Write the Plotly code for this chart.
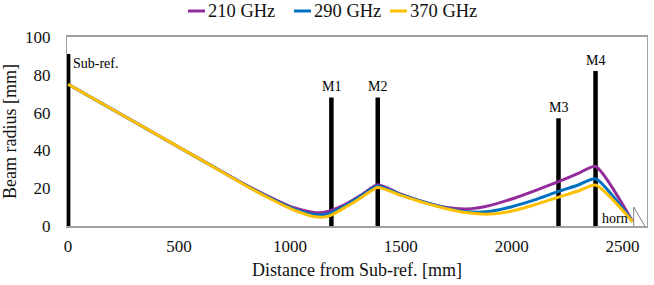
import plotly.graph_objects as go

# Beam radius curves
x_pts = [0, 300, 600, 800, 900, 1000, 1050, 1100, 1150, 1187, 1250, 1320, 1396,
         1500, 1600, 1700, 1800, 1900, 2000, 2100, 2211, 2300, 2378, 2545]
r_210 = [75, 55, 35, 21.8, 15.8, 10.4, 8.6, 7.3, 7.1, 8.2, 11.4, 16.2, 21.8,
         16.8, 12.8, 9.9, 9.0, 10.8, 14.3, 18.5, 23.5, 27.8, 31.5, 2.3]
r_290 = [75, 55, 35, 21.6, 15.4, 9.9, 7.8, 6.2, 5.9, 7.1, 10.8, 15.8, 21.2,
         16.6, 12.8, 9.6, 7.5, 7.7, 10.2, 13.7, 18.3, 21.7, 25.0, 2.3]
r_370 = [75, 55, 35, 21.4, 15.1, 9.3, 7.0, 5.2, 4.7, 5.8, 9.9, 14.9, 20.4,
         16.2, 12.5, 9.3, 7.0, 6.3, 7.9, 11.1, 15.3, 18.5, 21.7, 2.3]
series_names = ["210 GHz", "290 GHz", "370 GHz"]
series_vals = [r_210, r_290, r_370]
series_colors = ["#922B9C", "#0070C0", "#FFC000"]

# Mirror positions
mirror_x = [0, 1187, 1396, 2211, 2378]
mirror_h = [91, 68, 68, 57, 82]
mirror_labels = ["Sub-ref.", "M1", "M2", "M3", "M4"]

# Horn outline
horn_x = [2550, 2550, 2600]
horn_y = [0, 10, 0]

x_ticks = [0, 500, 1000, 1500, 2000, 2500]
y_ticks = [0, 20, 40, 60, 80, 100]

FONT = "Times New Roman, Liberation Serif, serif"
TXT = "#111111"

W, H = 654, 285
ML, MR, MT, MB = 67, 7, 37, 59
PW, PH = W - ML - MR, H - MT - MB


def px2paper_x(px):
    return (px - ML) / PW


def px2paper_y(py):
    return (H - MB - py) / PH


fig = go.Figure()

for mx, mh in zip(mirror_x, mirror_h):
    fig.add_trace(go.Scatter(x=[mx, mx], y=[0, mh], mode="lines",
                             line=dict(color="black", width=4.5),
                             showlegend=False, hoverinfo="skip"))

fig.add_trace(go.Scatter(x=horn_x, y=horn_y, mode="lines",
                         line=dict(color="#808080", width=1),
                         showlegend=False, hoverinfo="skip"))

for name, vals, col in zip(series_names, series_vals, series_colors):
    fig.add_trace(go.Scatter(x=x_pts, y=vals, mode="lines", name=name,
                             showlegend=False,
                             line=dict(color=col, width=3, shape="spline", smoothing=0.6)))

# custom compact legend
leg_start = [188, 294, 390]
leg_y = 11
for name, col, sx in zip(series_names, series_colors, leg_start):
    fig.add_shape(type="line", xref="paper", yref="paper",
                  x0=px2paper_x(sx), x1=px2paper_x(sx + 17),
                  y0=px2paper_y(leg_y), y1=px2paper_y(leg_y),
                  line=dict(color=col, width=3))
    fig.add_annotation(xref="paper", yref="paper", x=px2paper_x(sx + 18),
                       y=px2paper_y(leg_y), text=name, showarrow=False,
                       xanchor="left", yanchor="middle",
                       font=dict(family=FONT, size=18.5, color=TXT))

for mx, mh, lab in zip(mirror_x, mirror_h, mirror_labels):
    if lab == "Sub-ref.":
        fig.add_annotation(x=mx, y=mh, text=lab, showarrow=False,
                           xanchor="left", yanchor="top", xshift=3, yshift=0,
                           font=dict(family=FONT, size=14, color="black"))
    else:
        fig.add_annotation(x=mx, y=mh, text=lab, showarrow=False,
                           xanchor="center", yanchor="bottom", yshift=1,
                           font=dict(family=FONT, size=14, color="black"))

fig.add_annotation(x=2550, y=0, text="horn", showarrow=False,
                   xanchor="right", yanchor="bottom", xshift=-4, yshift=-2,
                   font=dict(family=FONT, size=14, color="black"))

fig.update_layout(
    width=W, height=H,
    margin=dict(l=ML, r=MR, t=MT, b=MB, autoexpand=False),
    plot_bgcolor="white", paper_bgcolor="white",
    font=dict(family=FONT, size=17, color=TXT),
    showlegend=False,
    xaxis=dict(range=[-5, 2610], tickvals=x_ticks, showgrid=False, zeroline=False,
               showline=True, linecolor="#A0A0A0", linewidth=1.5, mirror=True,
               ticks="", automargin=False, ticklabelstandoff=4,
               tickfont=dict(family=FONT, size=17, color=TXT),
               title=dict(text="Distance from Sub-ref. [mm]", standoff=8,
                          font=dict(family=FONT, size=18, color=TXT))),
    yaxis=dict(range=[0, 100], tickvals=y_ticks, showgrid=False, zeroline=False,
               showline=True, linecolor="#A0A0A0", linewidth=1, mirror=True,
               ticks="", automargin=False, ticklabelstandoff=12,
               tickfont=dict(family=FONT, size=17, color=TXT),
               title=dict(text="Beam radius [mm]", standoff=4,
                          font=dict(family=FONT, size=18, color=TXT))),
)

fig.write_html("out.html", config={"displayModeBar": False},
               post_script="document.body.style.margin='0px';")
